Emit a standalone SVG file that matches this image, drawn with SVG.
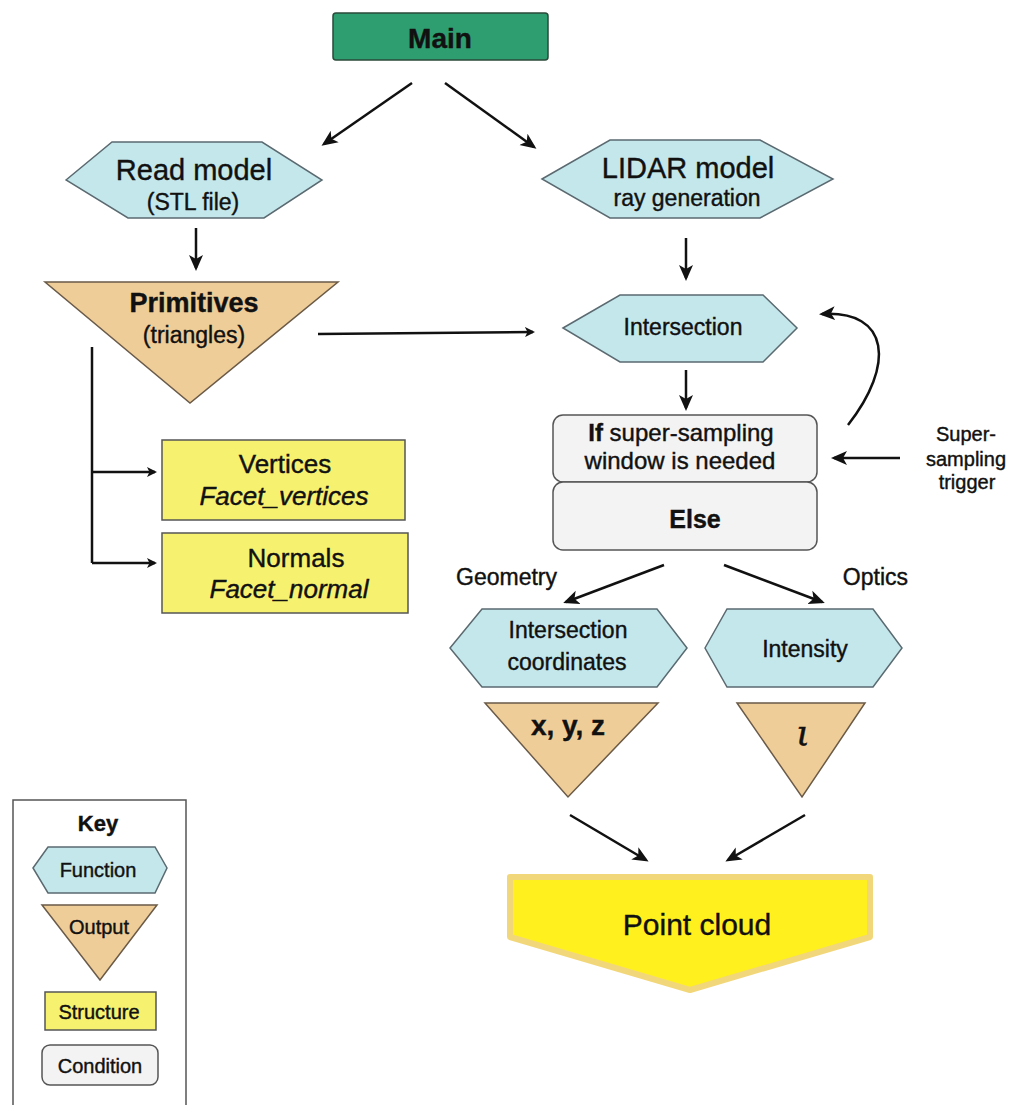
<svg xmlns="http://www.w3.org/2000/svg" width="1009" height="1105" viewBox="0 0 1009 1105">
<defs>
<marker id="ah" markerWidth="10" markerHeight="10" refX="8" refY="5" orient="auto" markerUnits="userSpaceOnUse" viewBox="0 0 10 10">
<path d="M0,0 L10,5 L0,10 L2.5,5 Z" fill="#111"/>
</marker>
<marker id="ahb" markerWidth="16" markerHeight="16" refX="13" refY="8" orient="auto" markerUnits="userSpaceOnUse" viewBox="0 0 16 16">
<path d="M0,1 L16,8 L0,15 L4,8 Z" fill="#111"/>
</marker>
</defs>
<style>
text{font-family:"Liberation Sans",Arial,sans-serif;fill:#111;stroke:#111;stroke-width:0.4px;text-anchor:middle}
.fn{fill:#c4e7ec;stroke:#5a6a70;stroke-width:1.5}
.out{fill:#efcd98;stroke:#6a5a48;stroke-width:1.5}
.st{fill:#f6f270;stroke:#555;stroke-width:1.5}
.cd{fill:#f3f3f3;stroke:#555;stroke-width:1.5}
.ln{stroke:#111;stroke-width:2.5;fill:none}
.b{font-weight:bold}
</style>
<rect width="1009" height="1105" fill="#fff"/>

<g id="main">
<rect x="333" y="13" width="215" height="47" rx="3" fill="#2e9e70" stroke="#2a4a3a" stroke-width="1.5"/>
<text x="440" y="48" font-size="28" class="b">Main</text>
</g>

<g id="read-model">
<polygon class="fn" points="66,180 112,142 262,142 322,180 264,218 128,218"/>
<text x="194" y="180" font-size="29">Read model</text>
<text x="193" y="210" font-size="23">(STL file)</text>
</g>

<g id="lidar-model">
<polygon class="fn" points="542,179 610,140 760,140 833,179 760,218 610,218"/>
<text x="688" y="178" font-size="29">LIDAR model</text>
<text x="687" y="206" font-size="23">ray generation</text>
</g>

<g id="primitives">
<polygon class="out" points="45,282 338,282 190,403"/>
<text x="194" y="312" font-size="27" class="b">Primitives</text>
<text x="194" y="343" font-size="23">(triangles)</text>
</g>

<g id="intersection">
<polygon class="fn" points="563,328 620,295 763,295 797,328 763,362 620,362"/>
<text x="683" y="335" font-size="23">Intersection</text>
</g>

<g id="vertices">
<rect class="st" x="162" y="440" width="243" height="80"/>
<text x="285" y="473" font-size="26">Vertices</text>
<text x="284" y="505" font-size="26" font-style="italic">Facet_vertices</text>
</g>

<g id="normals">
<rect class="st" x="162" y="533" width="246" height="80"/>
<text x="296" y="567" font-size="26">Normals</text>
<text x="289" y="598" font-size="26" font-style="italic">Facet_normal</text>
</g>

<g id="condition-if">
<rect class="cd" x="553" y="415" width="264" height="67" rx="10"/>
<text x="681" y="441" font-size="24"><tspan class="b">If</tspan> super-sampling</text>
<text x="680" y="469" font-size="24">window is needed</text>
</g>

<g id="condition-else">
<rect class="cd" x="553" y="482" width="264" height="68" rx="10"/>
<text x="695" y="528" font-size="25" class="b">Else</text>
</g>

<g id="trigger-label">
<text x="966" y="441" font-size="20">Super-</text>
<text x="966" y="466" font-size="20">sampling</text>
<text x="967" y="489" font-size="20">trigger</text>
</g>

<g id="intersection-coordinates">
<polygon class="fn" points="450,648 482,609 657,609 687,648 657,687 482,687"/>
<text x="568" y="638" font-size="23">Intersection</text>
<text x="567" y="670" font-size="23">coordinates</text>
</g>

<g id="intensity">
<polygon class="fn" points="705,648 727,609 873,609 902,648 873,687 727,687"/>
<text x="805" y="657" font-size="23">Intensity</text>
</g>

<g id="xyz">
<polygon class="out" points="485,703 658,703 568,797"/>
<text x="568" y="735" font-size="28" class="b">x, y, z</text>
</g>

<g id="iota">
<polygon class="out" points="737,703 865,703 802,797"/>
<text x="803" y="745" font-size="36" font-style="italic" style="font-family:'DejaVu Serif',serif">ι</text>
</g>

<g id="point-cloud">
<polygon points="510,877 870,877 870,937 690,990 510,937" fill="#fff01e" stroke="#f2d77a" stroke-width="6" stroke-linejoin="round"/>
<text x="697" y="935" font-size="30">Point cloud</text>
</g>

<g id="labels">
<text x="456" y="585" font-size="23" style="text-anchor:start">Geometry</text>
<text x="908" y="585" font-size="23" style="text-anchor:end">Optics</text>
</g>

<g id="key">
<rect x="13" y="800" width="173" height="320" fill="#fff" stroke="#555" stroke-width="1.5"/>
<text x="98" y="831" font-size="22" class="b">Key</text>
<polygon class="fn" points="33,868 48,847 155,847 167,868 155,893 48,893"/>
<text x="98" y="877" font-size="20">Function</text>
<polygon class="out" points="42,905 157,905 100,980"/>
<text x="99" y="934" font-size="20">Output</text>
<rect class="st" x="45" y="992" width="111" height="38"/>
<text x="99" y="1019" font-size="20">Structure</text>
<rect class="cd" x="42" y="1045" width="116" height="40" rx="8"/>
<text x="100" y="1073" font-size="20">Condition</text>
</g>

<g id="connectors">
<line class="ln" x1="412" y1="83" x2="324" y2="144" marker-end="url(#ahb)"/>
<line class="ln" x1="445" y1="83" x2="534" y2="147" marker-end="url(#ahb)"/>
<line class="ln" x1="196" y1="228" x2="196" y2="268" marker-end="url(#ahb)"/>
<line class="ln" x1="686" y1="238" x2="686" y2="278" marker-end="url(#ahb)"/>
<line class="ln" x1="318" y1="334" x2="533" y2="332" stroke-width="2" marker-end="url(#ah)"/>
<path class="ln" d="M92,347 V563" stroke-width="2"/>
<line class="ln" x1="92" y1="472" x2="155" y2="472" stroke-width="2" marker-end="url(#ah)"/>
<line class="ln" x1="92" y1="563" x2="155" y2="563" stroke-width="2" marker-end="url(#ah)"/>
<line class="ln" x1="686" y1="370" x2="686" y2="408" stroke-width="2.5" marker-end="url(#ahb)"/>
<line class="ln" x1="900" y1="458" x2="834" y2="458" marker-end="url(#ahb)"/>
<path class="ln" d="M848,425 C895,365 890,310 822,314" marker-end="url(#ahb)"/>
<line class="ln" x1="664" y1="565" x2="566" y2="602" marker-end="url(#ahb)"/>
<line class="ln" x1="724" y1="565" x2="822" y2="602" marker-end="url(#ahb)"/>
<line class="ln" x1="570" y1="815" x2="646" y2="860" marker-end="url(#ahb)"/>
<line class="ln" x1="805" y1="815" x2="728" y2="860" marker-end="url(#ahb)"/>
</g>
</svg>
